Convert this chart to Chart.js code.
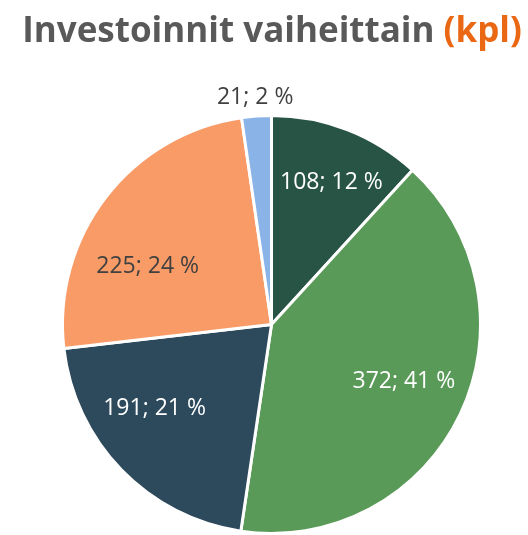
<!DOCTYPE html>
<html>
<head>
<meta charset="utf-8">
<script src="https://cdn.jsdelivr.net/npm/chart.js@4"></script>
<style>
  html, body { margin: 0; padding: 0; background: #fff; }
  #wrap { width: 528px; height: 535px; position: relative; }
</style>
</head>
<body>
<div id="wrap"><canvas id="pie"></canvas></div>
<script>
// Investoinnit vaiheittain (kpl)
const labels = ['Vaihe 1', 'Vaihe 2', 'Vaihe 3', 'Vaihe 4', 'Vaihe 5'];
const values = [108, 372, 191, 225, 21];
const percents = [12, 41, 21, 24, 2];
const colors = ['#285446', '#5a9a58', '#2c4a5c', '#f89b66', '#8ab4e8'];
const labelColors = ['#ffffff', '#ffffff', '#ffffff', '#404040', '#404040'];

const FONT = '"Open Sans", "Noto Sans", sans-serif';

// where each label sits: share of the slice's sweep, and share of the radius
const LABEL_SWEEP = [0.54, 0.486, 0.61, 0.36, 0.5];
const LABEL_RADIUS = [0.737, 0.69, 0.69, 0.655, 1.087];

// title with orange "(kpl)"
const titlePlugin = {
    id: 'mixedTitle',
    afterDraw(chart) {
        const ctx = chart.ctx;
        ctx.save();
        ctx.font = 'bold 35px ' + FONT;
        ctx.textBaseline = 'alphabetic';
        const a = 'Investoinnit vaiheittain ';
        const b = '(kpl)';
        const w = ctx.measureText(a).width + ctx.measureText(b).width;
        let x = 272 - w / 2;
        ctx.fillStyle = '#595959';
        ctx.fillText(a, x, 42);
        x += ctx.measureText(a).width;
        ctx.fillStyle = '#ea6713';
        ctx.fillText(b, x, 42);
        ctx.restore();
    }
};

// value; percent labels
const labelPlugin = {
    id: 'sliceLabels',
    afterDatasetsDraw(chart) {
        const ctx = chart.ctx;
        const meta = chart.getDatasetMeta(0);
        ctx.save();
        ctx.font = '23px ' + FONT;
        ctx.textAlign = 'center';
        ctx.textBaseline = 'middle';
        meta.data.forEach((arc, i) => {
            const p = arc.getProps(['x', 'y', 'startAngle', 'endAngle', 'outerRadius'], true);
            const ang = p.startAngle + (p.endAngle - p.startAngle) * LABEL_SWEEP[i];
            const r = p.outerRadius * LABEL_RADIUS[i];
            const lx = p.x + Math.cos(ang) * r;
            const ly = p.y + Math.sin(ang) * r;
            ctx.fillStyle = labelColors[i];
            ctx.fillText(values[i] + '; ' + percents[i] + ' %', lx, ly);
        });
        ctx.restore();
    }
};

new Chart(document.getElementById('pie'), {
    type: 'pie',
    data: {
        labels,
        datasets: [{
            data: values,
            backgroundColor: colors,
            borderColor: '#ffffff',
            borderWidth: 3
        }]
    },
    options: {
        responsive: true,
        maintainAspectRatio: false,
        animation: false,
        layout: { padding: { top: 114, bottom: 0, left: 61, right: 46 } },
        plugins: {
            legend: { display: false },
            tooltip: { enabled: false },
            title: { display: false }
        }
    },
    plugins: [titlePlugin, labelPlugin]
});
</script>
</body>
</html>
